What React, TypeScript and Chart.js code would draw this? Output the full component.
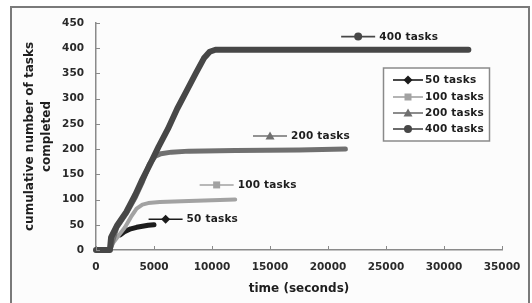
import React, { useEffect, useRef } from 'react';
import { Chart, registerables } from 'chart.js';

Chart.register(...registerables);

// ---- data ----
const seriesNames = ['50 tasks', '100 tasks', '200 tasks', '400 tasks'];

const time50 = [2100, 2500, 3000, 3500, 4000, 4500, 5000];
const tasks50 = [30, 37, 42, 45, 47, 49, 50];

const time100 = [0, 1200, 1500, 2000, 2500, 3000, 3500, 4000, 4500, 5500, 8000, 12000];
const tasks100 = [0, 0, 15, 30, 45, 65, 82, 90, 93, 95, 97, 100];

const time200 = [0, 1200, 1800, 2600, 3400, 4000, 4600, 5100, 5600, 6500, 8000, 12000, 17500, 21500];
const tasks200 = [0, 0, 45, 72, 105, 135, 170, 186, 191, 194, 196, 197, 198, 200];

const time400 = [0, 1200, 1300, 1800, 2600, 3400, 4000, 4700, 5400, 6200, 7000, 7800, 8600, 9300, 9800, 10300, 32100];
const tasks400 = [0, 0, 25, 48, 75, 110, 140, 172, 205, 240, 280, 315, 350, 380, 393, 397, 397];

// in-plot series labels (data coordinates)
const labelTime = [6000, 10400, 15000, 22600];
const labelTasks = [61, 129, 226, 423];

const xMin = 0, xMax = 35000, xStep = 5000;
const yMin = 0, yMax = 450, yStep = 50;

const xTitle = 'time (seconds)';
const yTitle = ['cumulative number of tasks', 'completed'];

// ---- styles ----
const colors = ['#1c1c1c', '#a2a2a2', '#707070', '#474747'];
const widths = [5, 4, 5, 6];
const markers = ['diamond', 'square', 'triangle', 'circle'];
const FONT = '"DejaVu Sans", Verdana, sans-serif';

function pts(xs: number[], ys: number[]) {
  return xs.map((x, i) => ({ x, y: ys[i] }));
}

function drawMarker(ctx: CanvasRenderingContext2D, kind: string, x: number, y: number, color: string) {
  ctx.save();
  ctx.fillStyle = color;
  ctx.beginPath();
  if (kind === 'diamond') {
    const r = 4.5;
    ctx.moveTo(x, y - r); ctx.lineTo(x + r, y); ctx.lineTo(x, y + r); ctx.lineTo(x - r, y); ctx.closePath();
  } else if (kind === 'square') {
    ctx.rect(x - 3.5, y - 3.5, 7, 7);
  } else if (kind === 'triangle') {
    ctx.moveTo(x, y - 4.5); ctx.lineTo(x + 4.5, y + 3.5); ctx.lineTo(x - 4.5, y + 3.5); ctx.closePath();
  } else {
    ctx.arc(x, y, 4, 0, Math.PI * 2);
  }
  ctx.fill();
  ctx.restore();
}

function drawKey(ctx: CanvasRenderingContext2D, i: number, cx: number, cy: number, half: number, gap: number, text: string) {
  ctx.save();
  ctx.strokeStyle = colors[i];
  ctx.lineWidth = 1.6;
  ctx.beginPath();
  ctx.moveTo(cx - half, cy);
  ctx.lineTo(cx + half, cy);
  ctx.stroke();
  drawMarker(ctx, markers[i], cx, cy, colors[i]);
  ctx.fillStyle = '#1e1e1e';
  ctx.font = `bold 10.5px ${FONT}`;
  ctx.textAlign = 'left';
  ctx.textBaseline = 'middle';
  (ctx as any).letterSpacing = '0.2px';
  ctx.fillText(text, cx + gap, cy + 0.5);
  ctx.restore();
}

const decorPlugin = {
  id: 'decor',
  beforeDraw(chart: any) {
    const ctx = chart.ctx as CanvasRenderingContext2D;
    ctx.save();
    ctx.fillStyle = '#ffffff';
    ctx.fillRect(0, 0, chart.width, chart.height);
    ctx.fillStyle = '#fcfcfc';
    ctx.fillRect(12, 8, 516, chart.height - 8);
    ctx.strokeStyle = '#7a7a7a';
    ctx.lineWidth = 2;
    ctx.beginPath();
    ctx.moveTo(11, chart.height + 2);
    ctx.lineTo(11, 7);
    ctx.lineTo(529, 7);
    ctx.lineTo(529, chart.height + 2);
    ctx.stroke();
    ctx.restore();
  },
  afterDraw(chart: any) {
    const ctx = chart.ctx as CanvasRenderingContext2D;
    const xs = chart.scales.x;
    const ys = chart.scales.y;
    const area = chart.chartArea;
    ctx.save();
    // inner tick marks
    ctx.strokeStyle = '#8a8a8a';
    ctx.lineWidth = 1;
    ctx.beginPath();
    for (let v = yMin; v <= yMax; v += yStep) {
      const py = Math.round(ys.getPixelForValue(v)) + 0.5;
      ctx.moveTo(area.left, py);
      ctx.lineTo(area.left + 4, py);
    }
    for (let v = xMin; v <= xMax; v += xStep) {
      const px = Math.round(xs.getPixelForValue(v)) + 0.5;
      ctx.moveTo(px, area.bottom);
      ctx.lineTo(px, area.bottom - 4);
    }
    ctx.stroke();
    ctx.restore();

    // in-plot labels
    seriesNames.forEach((name, i) => {
      const px = xs.getPixelForValue(labelTime[i]);
      const py = ys.getPixelForValue(labelTasks[i]);
      drawKey(ctx, i, px, py, 17, 21, name);
    });

    // legend box
    ctx.save();
    ctx.strokeStyle = '#8a8a8a';
    ctx.lineWidth = 1.5;
    ctx.fillStyle = '#ffffff';
    ctx.fillRect(383.5, 68, 106, 73);
    ctx.strokeRect(383.5, 68, 106, 73);
    ctx.restore();
    const rowY = [80, 97, 113, 129];
    seriesNames.forEach((name, i) => {
      drawKey(ctx, i, 408, rowY[i], 15, 17, name);
    });
  },
};

export default function App() {
  const ref = useRef<HTMLCanvasElement | null>(null);
  useEffect(() => {
    document.body.style.margin = '0';
    const canvas = ref.current!;
    const allTimes = [time50, time100, time200, time400];
    const allTasks = [tasks50, tasks100, tasks200, tasks400];
    const datasets = seriesNames.map((name, i) => ({
      label: name,
      data: pts(allTimes[i], allTasks[i]),
      borderColor: colors[i],
      backgroundColor: colors[i],
      borderWidth: widths[i],
      pointRadius: 0,
      tension: 0,
      fill: false,
      borderJoinStyle: 'round' as const,
      borderCapStyle: 'round' as const,
      clip: 6,
      order: seriesNames.length - i,
    }));
    const chart = new Chart(canvas, {
      type: 'line',
      data: { datasets },
      plugins: [decorPlugin],
      options: {
        responsive: false,
        animation: false,
        devicePixelRatio: 1,
        parsing: false as any,
        layout: { padding: { left: 0, top: 23, right: 30, bottom: 0 } },
        plugins: { legend: { display: false }, tooltip: { enabled: false } },
        scales: {
          x: {
            type: 'linear',
            min: xMin,
            max: xMax,
            grid: { display: true, drawOnChartArea: false, drawTicks: false },
            border: { display: true, color: '#8a8a8a', width: 1.5 },
            afterFit: (s: any) => { s.height = 53; },
            ticks: {
              stepSize: xStep,
              autoSkip: false,
              maxRotation: 0,
              padding: 11,
              color: '#2a2a2a',
              font: { family: FONT, size: 10.5, weight: 'bold' },
              callback: (v: any) => String(v),
            },
            title: {
              display: true,
              text: xTitle,
              color: '#1e1e1e',
              font: { family: FONT, size: 12, weight: 'bold' },
              padding: { top: 0, bottom: 7 },
            },
          },
          y: {
            type: 'linear',
            min: yMin,
            max: yMax,
            grid: { display: true, drawOnChartArea: false, drawTicks: false },
            border: { display: true, color: '#8a8a8a', width: 1.5 },
            afterFit: (s: any) => { s.width = 96; },
            ticks: {
              stepSize: yStep,
              padding: 12,
              color: '#2a2a2a',
              font: { family: FONT, size: 10.5, weight: 'bold' },
              callback: (v: any) => String(v),
            },
            title: {
              display: true,
              text: yTitle,
              color: '#1e1e1e',
              font: { family: FONT, size: 12, weight: 'bold', lineHeight: 1.4 },
              padding: { top: 21.6, bottom: 0 },
            },
          },
        },
      },
    });
    return () => chart.destroy();
  }, []);
  return (
    <div style={{ width: 532, height: 303 }}>
      <canvas ref={ref} width={532} height={303} style={{ display: 'block' }} />
    </div>
  );
}
